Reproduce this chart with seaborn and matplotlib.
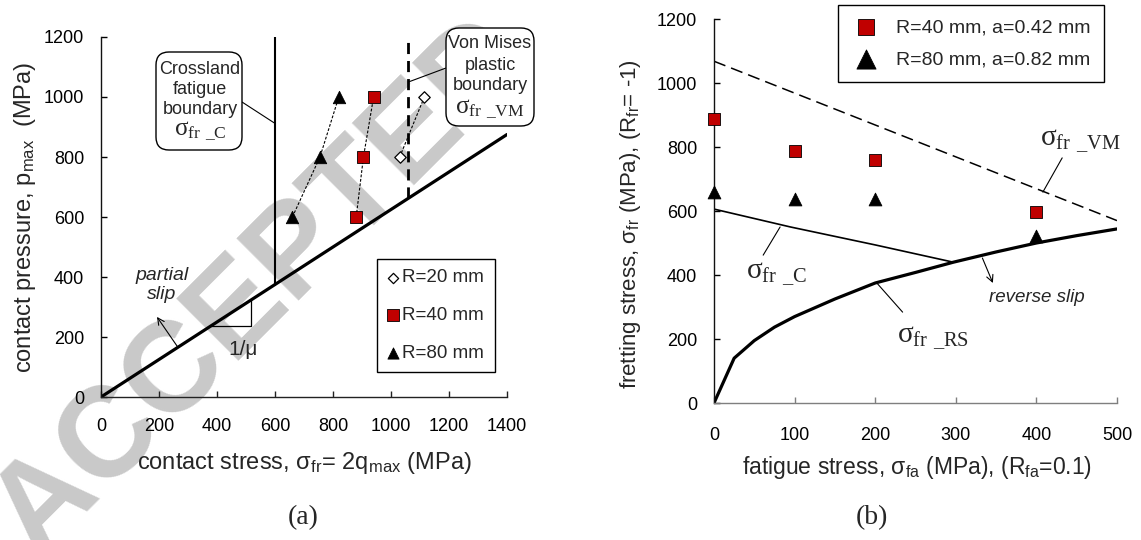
import matplotlib
matplotlib.use("Agg")
import matplotlib.pyplot as plt
import seaborn as sns
import pandas as pd
from matplotlib.patches import FancyBboxPatch

# ---------------- data: panel (a) ----------------
a_xticks = [0, 200, 400, 600, 800, 1000, 1200, 1400]
a_yticks = [0, 200, 400, 600, 800, 1000, 1200]
a_R20_x = [1030, 1115]
a_R20_y = [800, 1000]
a_R40_x = [880, 905, 940]
a_R40_y = [600, 800, 1000]
a_R80_x = [660, 755, 820]
a_R80_y = [600, 800, 1000]
a_slip_x = [0, 1400]
a_slip_y = [0, 875]
a_crossland_x = [600, 600]
a_crossland_y = [375, 1200]
a_vm_x = [1060, 1060]
a_vm_y = [662, 1200]
a_tri_x = [380, 516, 516]
a_tri_y = [238, 238, 322]

# ---------------- data: panel (b) ----------------
b_xticks = [0, 100, 200, 300, 400, 500]
b_yticks = [0, 200, 400, 600, 800, 1000, 1200]
b_fa = [0, 100, 200, 400]
b_R40 = [888, 788, 760, 598]
b_R80 = [660, 638, 638, 523]
b_vm_x = [0, 500]
b_vm_y = [1068, 570]
b_c_x = [0, 95, 200, 297]
b_c_y = [606, 550, 494, 440]
b_rs_x = [0, 25, 50, 75, 100, 150, 200, 250, 297, 350, 400, 450, 500]
b_rs_y = [0, 140, 195, 237, 270, 325, 375, 408, 440, 472, 500, 523, 544]

sns.set_theme(style="ticks")
plt.rcParams["font.family"] = ["Liberation Sans", "DejaVu Sans"]
plt.rcParams["mathtext.default"] = "regular"

W, H = 1141, 540
fig = plt.figure(figsize=(W / 100, H / 100), dpi=100)
T = fig.dpi_scale_trans


def P(x, y):
    return (x / 100.0, (H - y) / 100.0)


SERIF = ["Liberation Serif", "DejaVu Serif"]
RED = "#c00000"

# watermark
fig.text(*P(262, 288), "ACCEPTED", transform=T, rotation=45, fontsize=92,
         fontweight="bold", color="#c9c9c9", ha="center", va="center", zorder=-5)

# ================= panel (a) =================
axA = fig.add_axes([101 / W, 1 - 397 / H, 406 / W, 360 / H])
axA.patch.set_alpha(0)

sns.lineplot(x=a_slip_x, y=a_slip_y, ax=axA, color="black", lw=2.3, legend=False)
sns.lineplot(x=a_crossland_x, y=a_crossland_y, ax=axA, color="black", lw=1.5,
             legend=False, estimator=None, sort=False)
sns.lineplot(x=a_vm_x, y=a_vm_y, ax=axA, color="black", lw=2.0, legend=False,
             estimator=None, sort=False)
axA.lines[-1].set_dashes([4, 2.5])
sns.lineplot(x=a_tri_x, y=a_tri_y, ax=axA, color="black", lw=0.9, legend=False,
             estimator=None, sort=False)

for xs, ys in [(a_R20_x, a_R20_y), (a_R40_x, a_R40_y), (a_R80_x, a_R80_y)]:
    sns.lineplot(x=xs, y=ys, ax=axA, color="black", lw=0.8, legend=False,
                 estimator=None, sort=False)
    axA.lines[-1].set_dashes([2.5, 1.5])

sns.scatterplot(x=a_R20_x, y=a_R20_y, ax=axA, marker="D", s=34, color="white",
                edgecolor="black", linewidth=0.9, label="R=20 mm", zorder=5)
sns.scatterplot(x=a_R40_x, y=a_R40_y, ax=axA, marker="s", s=80, color=RED,
                edgecolor="black", linewidth=0.6, label="R=40 mm", zorder=5)
sns.scatterplot(x=a_R80_x, y=a_R80_y, ax=axA, marker="^", s=80, color="black",
                edgecolor="black", linewidth=0.6, label="R=80 mm", zorder=5)

axA.set_xlim(0, 1400)
axA.set_ylim(0, 1200)
axA.set_xticks(a_xticks)
axA.set_yticks(a_yticks)
axA.set_xlabel(r"contact stress, σ$_{fr}$= 2q$_{max}$ (MPa)", fontsize=17)
axA.set_ylabel(r"contact pressure, p$_{max}$  (MPa)", fontsize=17)
axA.xaxis.label.set_va("center")
axA.yaxis.label.set_va("center")
axA.xaxis.set_label_coords(0.5, -0.183)
axA.yaxis.set_label_coords(-0.186, 0.5)

legA = axA.legend(loc="upper left", bbox_to_anchor=P(377, 259), bbox_transform=T,
                  borderaxespad=0, fontsize=13.5, frameon=True, fancybox=False,
                  edgecolor="black", framealpha=1, borderpad=0.55, handlelength=0.6,
                  handletextpad=0.2, labelspacing=1.1, markerscale=0.9)
legA.get_frame().set_linewidth(1.0)

axA.text(490, 157, "1/μ", fontsize=15, ha="center", va="center")
axA.text(210, 373, "partial\nslip", fontsize=14, style="italic", ha="center",
         va="center", linespacing=1.15)
axA.annotate("", xy=(193, 267), xytext=(265, 166),
             arrowprops=dict(arrowstyle="->", lw=0.8, color="black",
                             shrinkA=0, shrinkB=0))

# Crossland box
fig.add_artist(FancyBboxPatch(P(156, 150), 0.86, 0.98, transform=T,
                              boxstyle="round,pad=0,rounding_size=0.13",
                              fc="white", ec="black", lw=1.0, zorder=6))
for txt, yy in [("Crossland", 69), ("fatigue", 90), ("boundary", 110)]:
    fig.text(*P(200, yy), txt, transform=T, fontsize=13, ha="center",
             va="center", zorder=7)
fig.text(*P(200, 131), r"σ$_{fr\ \_C}$", transform=T, fontsize=18, family=SERIF,
         ha="center", va="center", zorder=7)
axA.annotate("", xy=(600, 912), xytext=P(242, 102), textcoords=T,
             arrowprops=dict(arrowstyle="-", lw=0.8, color="black",
                             shrinkA=0, shrinkB=0))

# Von Mises box
fig.add_artist(FancyBboxPatch(P(446, 126), 0.88, 0.98, transform=T,
                              boxstyle="round,pad=0,rounding_size=0.13",
                              fc="white", ec="black", lw=1.0, zorder=6))
for txt, yy in [("Von Mises", 44), ("plastic", 65), ("boundary", 86)]:
    fig.text(*P(490, yy), txt, transform=T, fontsize=13, ha="center",
             va="center", zorder=7)
fig.text(*P(490, 109), r"σ$_{fr\ \_VM}$", transform=T, fontsize=18, family=SERIF,
         ha="center", va="center", zorder=7)
axA.annotate("", xy=(1060, 1050), xytext=P(446, 68), textcoords=T,
             arrowprops=dict(arrowstyle="-", lw=0.8, color="black",
                             shrinkA=0, shrinkB=0))

fig.text(*P(303, 518), "(a)", transform=T, fontsize=20, family=SERIF,
         ha="center", va="center")

# ================= panel (b) =================
axB = fig.add_axes([714 / W, 1 - 403 / H, 403 / W, 384 / H])
axB.patch.set_alpha(0)

sns.lineplot(x=b_vm_x, y=b_vm_y, ax=axB, color="black", lw=1.1, legend=False)
axB.lines[-1].set_dashes([8, 4])
sns.lineplot(x=b_c_x, y=b_c_y, ax=axB, color="black", lw=1.2, legend=False,
             estimator=None, sort=False)
sns.lineplot(x=b_rs_x, y=b_rs_y, ax=axB, color="black", lw=2.3, legend=False,
             estimator=None, sort=False)

sns.scatterplot(x=b_fa, y=b_R40, ax=axB, marker="s", s=85, color=RED,
                edgecolor="black", linewidth=0.6, label="R=40 mm, a=0.42 mm",
                zorder=5, clip_on=False)
sns.scatterplot(x=b_fa, y=b_R80, ax=axB, marker="^", s=85, color="black",
                edgecolor="black", linewidth=0.6, label="R=80 mm, a=0.82 mm",
                zorder=5, clip_on=False)

axB.set_xlim(0, 500)
axB.set_ylim(0, 1200)
axB.set_xticks(b_xticks)
axB.set_yticks(b_yticks)
axB.set_xlabel(r"fatigue stress, σ$_{fa}$ (MPa), (R$_{fa}$=0.1)", fontsize=16.5)
axB.set_ylabel(r"fretting stress, σ$_{fr}$ (MPa), (R$_{fr}$= -1)", fontsize=16)
axB.xaxis.label.set_va("center")
axB.yaxis.label.set_va("center")
axB.xaxis.set_label_coords(0.504, -0.169)
axB.yaxis.set_label_coords(-0.206, 0.466)

legB = axB.legend(loc="upper left", bbox_to_anchor=P(838, 5), bbox_transform=T,
                  borderaxespad=0, fontsize=14, frameon=True, fancybox=False,
                  edgecolor="black", framealpha=1, borderpad=0.7, handlelength=1.5,
                  handletextpad=0.8, labelspacing=0.75)
legB.get_frame().set_linewidth(1.0)
legB.legend_handles[0].set_sizes([130])
legB.legend_handles[1].set_sizes([190])

axB.text(454, 819, r"σ$_{fr\ \_VM}$", fontsize=21, family=SERIF, ha="center",
         va="center")
axB.annotate("", xy=(408, 659), xytext=(432, 766),
             arrowprops=dict(arrowstyle="-", lw=0.8, color="black",
                             shrinkA=0, shrinkB=0))
axB.text(78, 403, r"σ$_{fr\ \_C}$", fontsize=21, family=SERIF, ha="center",
         va="center")
axB.annotate("", xy=(82, 550), xytext=(61, 462),
             arrowprops=dict(arrowstyle="-", lw=0.8, color="black",
                             shrinkA=0, shrinkB=0))
axB.text(272, 203, r"σ$_{fr\ \_RS}$", fontsize=21, family=SERIF, ha="center",
         va="center")
axB.annotate("", xy=(202, 375), xytext=(234, 284),
             arrowprops=dict(arrowstyle="-", lw=0.8, color="black",
                             shrinkA=0, shrinkB=0))
axB.text(401, 331, "reverse slip", fontsize=13.5, style="italic", ha="center",
         va="center")
axB.annotate("", xy=(346, 375), xytext=(333, 453),
             arrowprops=dict(arrowstyle="->", lw=0.8, color="black",
                             shrinkA=0, shrinkB=0))

fig.text(*P(872, 518), "(b)", transform=T, fontsize=20, family=SERIF,
         ha="center", va="center")

# ---------------- axis styling ----------------
for ax, xpad, xcol in [(axA, 15, "#222222"), (axB, 17, "#7f7f7f")]:
    for s in ["top", "right"]:
        ax.spines[s].set_visible(False)
    ax.spines["left"].set_color("#111111")
    ax.spines["bottom"].set_color(xcol)
    ax.spines["left"].set_linewidth(1.0)
    ax.spines["bottom"].set_linewidth(1.0)
    ax.tick_params(axis="both", direction="in", length=4, width=1.0,
                   labelsize=13, colors="black")
    ax.tick_params(axis="x", pad=xpad, color=xcol)
    ax.tick_params(axis="y", pad=12)
    ax.grid(False)

fig.savefig("out.png", dpi=100)
